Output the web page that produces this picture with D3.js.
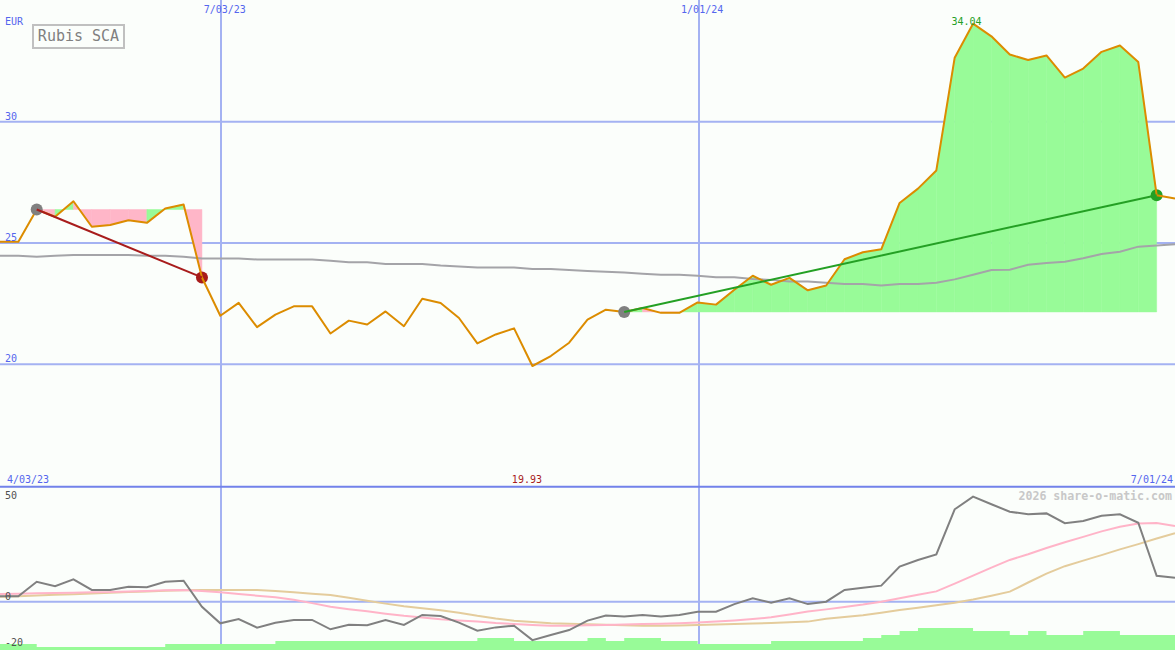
<!DOCTYPE html>
<html><head><meta charset="utf-8">
<script src="https://cdn.jsdelivr.net/npm/d3@7"></script>
<style>html,body{margin:0;padding:0;background:#fbfefb;}svg{display:block;}</style>
</head><body>
<svg id="c" width="1175" height="650"></svg>
<script>
// ---------- data ----------
const startDate = new Date(Date.UTC(2023, 3, 10));
const endDate = new Date(Date.UTC(2024, 6, 1));
const price = [25.05,25.05,26.38,26.08,26.72,25.67,25.74,25.94,25.83,26.42,
  26.59,23.58,22.0,22.53,21.53,22.05,22.39,22.39,21.27,21.8,
  21.64,22.18,21.57,22.70,22.53,21.91,20.86,21.23,21.48,19.93,
  20.34,20.89,21.84,22.25,22.16,22.32,22.12,22.12,22.55,22.46,
  23.07,23.65,23.28,23.56,23.05,23.25,24.33,24.62,24.74,26.65,
  27.24,27.99,32.64,34.04,33.52,32.77,32.54,32.73,31.82,32.19,
  32.88,33.14,32.46,26.97,26.83];
const movingAvg = [24.47,24.47,24.43,24.47,24.51,24.51,24.51,24.51,24.47,24.47,
  24.43,24.36,24.36,24.36,24.32,24.32,24.32,24.32,24.27,24.21,
  24.21,24.13,24.13,24.13,24.07,24.03,23.99,23.99,23.99,23.93,
  23.93,23.89,23.85,23.82,23.78,23.73,23.69,23.69,23.65,23.59,
  23.59,23.52,23.48,23.41,23.41,23.36,23.31,23.31,23.25,23.31,
  23.31,23.36,23.5,23.69,23.89,23.9,24.1,24.18,24.23,24.37,
  24.55,24.64,24.85,24.9,24.95];
const momentum = [2.3,2.3,8.3,6.5,9.3,4.9,4.9,6.25,6.0,8.3,
  8.75,-2.1,-9.0,-7.2,-10.8,-8.75,-7.6,-7.6,-11.5,-9.6,
  -9.8,-7.6,-9.7,-5.5,-6.0,-8.7,-12.1,-10.7,-10.0,-16.0,
  -13.9,-11.8,-7.9,-5.8,-6.2,-5.5,-6.2,-5.5,-4.2,-4.2,
  -1.0,1.4,-0.4,1.4,-1.0,0,4.9,5.8,6.7,14.6,
  17.4,19.7,38.5,43.75,40.6,37.5,36.4,36.8,32.7,33.6,
  35.8,36.4,32.9,10.8,10.0];
const momentumFast = [3.2,3.3,3.5,3.6,3.7,3.9,4.0,4.3,4.5,4.8,
  4.9,4.5,3.9,3.2,2.5,1.9,0.8,-0.6,-2.1,-3.1,
  -4.0,-5.0,-5.9,-6.6,-7.3,-7.8,-8.3,-8.9,-9.3,-9.7,
  -10.0,-10.0,-9.8,-9.7,-9.5,-9.3,-9.2,-9.0,-8.7,-8.3,
  -7.8,-7.2,-6.5,-5.3,-4.1,-3.2,-2.2,-1.2,0,1.4,
  2.9,4.3,7.5,10.9,14.2,17.4,19.8,22.4,24.8,27.0,
  29.3,31.2,32.6,32.8,31.5];
const momentumSlow = [2.1,2.3,2.6,2.9,3.1,3.4,3.7,4.0,4.3,4.6,
  4.8,4.9,4.9,4.9,4.9,4.5,3.9,3.3,2.8,1.6,
  0.4,-0.8,-1.9,-2.7,-3.6,-4.6,-5.9,-7.0,-7.9,-8.5,
  -9.0,-9.2,-9.4,-9.6,-9.8,-10.0,-10.0,-9.9,-9.7,-9.5,
  -9.3,-9.1,-8.9,-8.6,-8.3,-7.1,-6.4,-5.6,-4.6,-3.5,
  -2.5,-1.5,-0.4,0.9,2.5,4.2,8.0,11.7,14.8,17.1,
  19.4,21.8,24.0,26.3,28.5];
const volume = [60,60,30,30,30,30,30,30,30,60,
  60,60,60,60,60,90,90,90,90,90,
  90,90,90,90,90,90,120,120,90,90,
  90,90,120,90,120,120,90,90,60,60,
  60,60,90,90,90,90,90,120,150,190,
  220,220,220,190,190,150,190,150,150,190,
  190,150,150,150,150];
const priceTicks = [20, 25, 30];
const momTicks = [50, 0, -20];
const dateTicks = [new Date(Date.UTC(2023,6,3)), new Date(Date.UTC(2024,0,1))];
const dateTickLabels = ["7/03/23", "1/01/24"];
const rangeLabels = ["4/03/23", "7/01/24"];
const title = "Rubis SCA";
const currency = "EUR";
const trends = [{from: 2, to: 11, color: "#a81c1c"}, {from: 34, to: 63, color: "#24a024"}];

const dates = d3.utcMonday.range(startDate, d3.utcDay.offset(endDate, 1));

// ---------- scales ----------
const W = 1175, H = 650;
const x = d3.scaleUtc().domain([startDate, endDate]).range([0, W]);
const y = d3.scaleLinear().domain([20, 30]).range([364.3, 121.7]);
const yM = d3.scaleLinear().domain([-20, 0]).range([649.7, 601.7]);
const yV = d3.scaleLinear().domain([0, 100]).range([650, 640]);

const svg = d3.select("#c");
const font = "'DejaVu Sans Mono', monospace";
const blue = "#5466ee";
const grid = "#a4b2f2";

svg.append("rect").attr("width", W).attr("height", H).attr("fill", "#fbfefb");

// ---------- grid ----------
const g = svg.append("g");
g.selectAll("line.h").data(priceTicks).join("line")
  .attr("x1", 0).attr("x2", W).attr("y1", d => y(d)).attr("y2", d => y(d))
  .attr("stroke", grid).attr("stroke-width", 2);
g.append("line").attr("x1", 0).attr("x2", W).attr("y1", yM(0)).attr("y2", yM(0))
  .attr("stroke", grid).attr("stroke-width", 2);
g.selectAll("line.v").data(dateTicks).join("line")
  .attr("x1", d => Math.round(x(d)) + 1).attr("x2", d => Math.round(x(d)) + 1)
  .attr("y1", 0).attr("y2", H).attr("stroke", grid).attr("stroke-width", 2);
g.append("line").attr("x1", 0).attr("x2", W).attr("y1", 486.7).attr("y2", 486.7)
  .attr("stroke", "#7282ea").attr("stroke-width", 2);

// ---------- volume bars ----------
svg.append("path").datum(volume)
  .attr("d", d3.area().curve(d3.curveStepAfter)
    .x((d, i) => x(dates[i])).y0(yV(0)).y1(d => yV(d)))
  .attr("fill", "#98fb98");

// ---------- performance fills (colour of each week by its close vs. start) ----------
trends.forEach(t => {
  const base = price[t.from];
  const area = d3.area().x(i => x(dates[i])).y0(y(base)).y1(i => y(price[i]));
  const segs = d3.range(t.from, t.to).map(i => [i, i + 1]);
  svg.append("g").selectAll("path").data(segs).join("path")
    .attr("d", area)
    .attr("fill", s => price[s[1]] >= base ? "#98fb98" : "#ffb6c8")
    .attr("stroke", s => price[s[1]] >= base ? "#98fb98" : "#ffb6c8")
    .attr("stroke-width", 0.5);
});

// ---------- moving average ----------
const lineTop = arr => d3.line().x((d, i) => x(dates[i])).y(d => y(d))(arr);
svg.append("path").attr("d", lineTop(movingAvg)).attr("fill", "none")
  .attr("stroke", "#a4a4a8").attr("stroke-width", 2);

// ---------- momentum panel ----------
const lineBot = arr => d3.line().x((d, i) => x(dates[i])).y(d => yM(d))(arr);
svg.append("path").attr("d", lineBot(momentumSlow)).attr("fill", "none")
  .attr("stroke", "#e4cc9c").attr("stroke-width", 2);
svg.append("path").attr("d", lineBot(momentumFast)).attr("fill", "none")
  .attr("stroke", "#ffb4c8").attr("stroke-width", 2);
svg.append("path").attr("d", lineBot(momentum)).attr("fill", "none")
  .attr("stroke", "#808080").attr("stroke-width", 2);

// ---------- end circles ----------
trends.forEach(t => {
  svg.append("circle").attr("cx", x(dates[t.to])).attr("cy", y(price[t.to]))
    .attr("r", 6).attr("fill", t.color);
});

// ---------- price line ----------
svg.append("path").attr("d", lineTop(price)).attr("fill", "none")
  .attr("stroke", "#dc8c00").attr("stroke-width", 2).attr("stroke-linejoin", "round");

// ---------- start circles + trend lines ----------
trends.forEach(t => {
  svg.append("circle").attr("cx", x(dates[t.from])).attr("cy", y(price[t.from]))
    .attr("r", 6).attr("fill", "#808080");
  svg.append("line")
    .attr("x1", x(dates[t.from])).attr("y1", y(price[t.from]))
    .attr("x2", x(dates[t.to])).attr("y2", y(price[t.to]))
    .attr("stroke", t.color).attr("stroke-width", 2);
});

// ---------- texts ----------
const txt = (s, xx, yy, col, anchor, size, weight) => svg.append("text")
  .attr("x", xx).attr("y", yy).attr("fill", col).attr("text-anchor", anchor || "start")
  .attr("font-family", font).attr("font-size", size || 10).attr("font-weight", weight || "normal")
  .text(s);

txt(currency, 5, 25, blue);
priceTicks.forEach(v => txt(String(v), 5, y(v) - 2, blue));
dateTicks.forEach((d, i) => txt(dateTickLabels[i], x(d) + 4.5, 13, blue, "middle"));
txt(rangeLabels[0], 7, 483, blue);
txt(rangeLabels[1], 1173, 483, blue, "end");
momTicks.forEach(v => txt(String(v), 5, Math.max(499, Math.min(645.5, yM(v) - 2)), "#505050"));

const iMax = d3.maxIndex(price), iMin = d3.minIndex(price);
txt(price[iMax].toFixed(2), x(dates[iMax]) - 6.5, 25, "#24a024", "middle");
txt(price[iMin].toFixed(2), x(dates[iMin]) - 5.5, 483, "#a81c1c", "middle");

txt("2026 share-o-matic.com", 1172, 500, "#c8c8c8", "end", 11.6, "bold");

svg.append("rect").attr("x", 33).attr("y", 25).attr("width", 91).attr("height", 23)
  .attr("fill", "#fbfefb").attr("stroke", "#c0c0c0").attr("stroke-width", 2);
txt(title, 78.5, 41, "#808080", "middle", 15);
</script>
</body></html>
